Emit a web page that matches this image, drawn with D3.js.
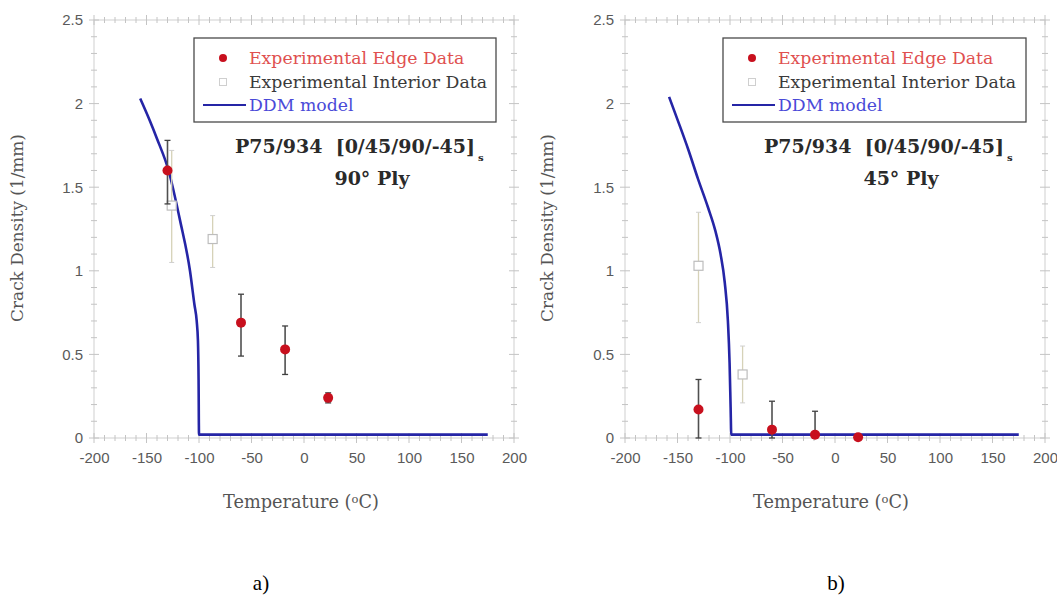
<!DOCTYPE html>
<html><head><meta charset="utf-8">
<script src="https://cdn.jsdelivr.net/npm/d3@7"></script>
<style>body{margin:0;background:#fff}svg{display:block}</style>
</head><body>
<svg id="c" width="1057" height="597"></svg>
<script>
// ---- data ----
const xTickValues = [-200, -150, -100, -50, 0, 50, 100, 150, 200];
const yTickValues = [0, 0.5, 1, 1.5, 2, 2.5];
const yTickLabels = ["0", "0.5", "1", "1.5", "2", "2.5"];
const legendLabels = ["Experimental Edge Data", "Experimental Interior Data", "DDM model"];
const panelTitles = ["P75/934\u00a0\u00a0[0/45/90/-45]", "P75/934\u00a0\u00a0[0/45/90/-45]"];
const plyLabels = ["90\u00b0 Ply", "45\u00b0 Ply"];
const captions = ["a)", "b)"];

// panel a (90° ply)
const ddmA_T = [-156, -147, -140, -129, -118, -108.6, -104.4, -102.2, -101, -100.4, -100, 175];
const ddmA_D = [2.03, 1.90, 1.79, 1.60, 1.30, 1.00, 0.80, 0.70, 0.58, 0.35, 0.02, 0.02];
const edgeA_T = [-130, -60, -18, 23];
const edgeA_D = [1.60, 0.69, 0.53, 0.24];
const edgeA_lo = [1.40, 0.49, 0.38, 0.21];
const edgeA_hi = [1.78, 0.86, 0.67, 0.27];
const intA_T = [-126, -87];
const intA_D = [1.39, 1.19];
const intA_lo = [1.05, 1.02];
const intA_hi = [1.72, 1.33];

// panel b (45° ply)
const ddmB_T = [-158, -148, -140, -130.5, -121, -114, -109, -105, -102, -100.4, -99.4, -98.8, 175];
const ddmB_D = [2.04, 1.87, 1.73, 1.55, 1.38, 1.24, 1.10, 0.93, 0.70, 0.45, 0.18, 0.02, 0.02];
const edgeB_T = [-130, -60, -19, 22];
const edgeB_D = [0.17, 0.05, 0.02, 0.005];
const edgeB_lo = [0, 0, 0, 0];
const edgeB_hi = [0.35, 0.22, 0.16, 0.02];
const intB_T = [-130, -88];
const intB_D = [1.03, 0.38];
const intB_lo = [0.69, 0.21];
const intB_hi = [1.35, 0.55];

// ---- drawing ----
const svg = d3.select("#c");
const SERIF = "'DejaVu Serif', serif";
const SANS = "'Liberation Sans', Arial, sans-serif";

function fit(sel, target) {
  const w = sel.node().getComputedTextLength();
  const fs = parseFloat(sel.attr("font-size"));
  const nfs = fs * target / w;
  sel.attr("font-size", nfs.toFixed(2));
  return nfs;
}

const panels = [
  {x0: 94, x1: 514, ddmT: ddmA_T, ddmD: ddmA_D, eT: edgeA_T, eD: edgeA_D, eLo: edgeA_lo, eHi: edgeA_hi,
   iT: intA_T, iD: intA_D, iLo: intA_lo, iHi: intA_hi, title: panelTitles[0], ply: plyLabels[0], cap: captions[0],
   legX0: 194, legX1: 496, yTitleX: 17, tempX: 301, capX: 261, titleX0: 235, plyX: 372},
  {x0: 625, x1: 1045, ddmT: ddmB_T, ddmD: ddmB_D, eT: edgeB_T, eD: edgeB_D, eLo: edgeB_lo, eHi: edgeB_hi,
   iT: intB_T, iD: intB_D, iLo: intB_lo, iHi: intB_hi, title: panelTitles[1], ply: plyLabels[1], cap: captions[1],
   legX0: 723, legX1: 1026, yTitleX: 547, tempX: 831, capX: 836, titleX0: 764, plyX: 901}
];

const yTop = 20, yBot = 438;

panels.forEach(p => {
  const x = d3.scaleLinear().domain([-200, 200]).range([p.x0, p.x1]);
  const y = d3.scaleLinear().domain([0, 2.5]).range([yBot, yTop]);
  const g = svg.append("g");

  // frame
  g.append("rect").attr("x", p.x0).attr("y", yTop).attr("width", p.x1 - p.x0).attr("height", yBot - yTop)
    .attr("fill", "none").attr("stroke", "#cfcfcf").attr("stroke-width", 1);

  // ticks (crossing) on all four sides
  const tickCol = "#c4c4c4";
  const xMinor = d3.range(-200, 201, 10);
  const yMinor = d3.range(0, 2.501, 0.1);
  xMinor.forEach(v => {
    const major = Math.abs(v % 50) < 1e-9;
    const L = major ? 5 : 3;
    [yTop, yBot].forEach(yy => g.append("line").attr("x1", x(v)).attr("x2", x(v))
      .attr("y1", yy - L).attr("y2", yy + L).attr("stroke", tickCol).attr("stroke-width", 1));
  });
  yMinor.forEach(v => {
    const r = Math.round(v * 10) % 5;
    const L = r === 0 ? 5 : 3;
    [p.x0, p.x1].forEach(xx => g.append("line").attr("x1", xx - L).attr("x2", xx + L)
      .attr("y1", y(v)).attr("y2", y(v)).attr("stroke", tickCol).attr("stroke-width", 1));
  });

  // axis labels via d3 axes (tick lines hidden, labels only)
  const xAxis = d3.axisBottom(x).tickValues(xTickValues).tickSize(0).tickPadding(0).tickFormat(d => String(d));
  const xa = g.append("g").attr("transform", `translate(0,${yBot + 14})`).call(xAxis);
  xa.select(".domain").remove();
  xa.selectAll("text").attr("font-family", SANS).attr("font-size", 15).attr("fill", "#5a5a5a");
  const yAxis = d3.axisLeft(y).tickValues(yTickValues).tickSize(0).tickPadding(0)
    .tickFormat((d, i) => yTickLabels[i]);
  const ya = g.append("g").attr("transform", `translate(${p.x0 - 11},0)`).call(yAxis);
  ya.select(".domain").remove();
  ya.selectAll("text").attr("font-family", SANS).attr("font-size", 15).attr("fill", "#5a5a5a");

  // axis titles
  const yt = g.append("text").attr("transform", `translate(${p.yTitleX + 6},228) rotate(-90)`)
    .attr("text-anchor", "middle").attr("font-family", SERIF).attr("font-size", 15).attr("fill", "#555")
    .text("Crack Density (1/mm)");
  fit(yt, 188);
  const xt = g.append("text").attr("x", p.tempX).attr("y", 508).attr("text-anchor", "middle")
    .attr("font-family", SERIF).attr("font-size", 15).attr("fill", "#555");
  xt.append("tspan").text("Temperature (");
  xt.append("tspan").attr("dy", -5).attr("font-size", "0.65em").text("o");
  xt.append("tspan").attr("dy", 5).text("C)");
  fit(xt, 156);

  // DDM curve
  const line = d3.line().x(d => x(d[0])).y(d => y(d[1])).curve(d3.curveMonotoneX);
  const pts = p.ddmT.map((t, i) => [t, p.ddmD[i]]);
  g.append("path").datum(pts).attr("d", line).attr("fill", "none")
    .attr("stroke", "#2525a6").attr("stroke-width", 2.6).attr("stroke-linejoin", "round");

  // interior data: error bars + open squares
  p.iT.forEach((t, i) => {
    g.append("line").attr("x1", x(t)).attr("x2", x(t)).attr("y1", y(p.iLo[i])).attr("y2", y(p.iHi[i]))
      .attr("stroke", "#d6d2b8").attr("stroke-width", 1.3);
    [p.iLo[i], p.iHi[i]].forEach(v => g.append("line").attr("x1", x(t) - 2.5).attr("x2", x(t) + 2.5)
      .attr("y1", y(v)).attr("y2", y(v)).attr("stroke", "#cfcfcf").attr("stroke-width", 1));
    g.append("rect").attr("x", x(t) - 4.5).attr("y", y(p.iD[i]) - 4.5).attr("width", 9).attr("height", 9)
      .attr("fill", "#fff").attr("stroke", "#bdbdbd").attr("stroke-width", 1.2);
  });

  // edge data: error bars + red dots
  p.eT.forEach((t, i) => {
    g.append("line").attr("x1", x(t)).attr("x2", x(t)).attr("y1", y(p.eLo[i])).attr("y2", y(p.eHi[i]))
      .attr("stroke", "#505050").attr("stroke-width", 1.6);
    [p.eLo[i], p.eHi[i]].forEach(v => g.append("line").attr("x1", x(t) - 3).attr("x2", x(t) + 3)
      .attr("y1", y(v)).attr("y2", y(v)).attr("stroke", "#404040").attr("stroke-width", 1.3));
    g.append("circle").attr("cx", x(t)).attr("cy", y(p.eD[i])).attr("r", 5)
      .attr("fill", "#c8101e");
  });

  // legend
  const lg = g.append("g");
  lg.append("rect").attr("x", p.legX0).attr("y", 38).attr("width", p.legX1 - p.legX0).attr("height", 84)
    .attr("fill", "#fff").attr("stroke", "#4a4a4a").attr("stroke-width", 1.3);
  const mx = p.legX0 + 29, tx = p.legX0 + 55;
  lg.append("circle").attr("cx", mx).attr("cy", 58).attr("r", 4).attr("fill", "#c8101e");
  lg.append("rect").attr("x", mx - 3.5).attr("y", 78.5).attr("width", 7).attr("height", 7)
    .attr("fill", "#fff").attr("stroke", "#cfcfcf").attr("stroke-width", 1);
  lg.append("line").attr("x1", p.legX0 + 9).attr("x2", p.legX0 + 52).attr("y1", 105).attr("y2", 105)
    .attr("stroke", "#2525a6").attr("stroke-width", 2);
  const legCols = ["#e0504f", "#3a3a3a", "#4a4ad8"];
  const legY = [63.5, 87.5, 110.5];
  const legTexts = legendLabels.map((s, i) => lg.append("text").attr("x", tx).attr("y", legY[i])
    .attr("font-family", SERIF).attr("font-size", 16).attr("fill", legCols[i]).text(s));
  const lfs = fit(legTexts[1], 238);
  legTexts.forEach(t => t.attr("font-size", lfs.toFixed(2)));

  // annotations
  const ann = g.append("text").attr("x", p.titleX0).attr("y", 153).attr("font-family", SERIF)
    .attr("font-weight", "bold").attr("font-size", 16).attr("fill", "#2a2a2a").text(p.title);
  const afs = fit(ann, 240);
  g.append("text").attr("x", p.titleX0 + 243).attr("y", 161).attr("font-family", SERIF)
    .attr("font-weight", "bold").attr("font-size", 10).attr("fill", "#2a2a2a").text("s");
  g.append("text").attr("x", p.plyX).attr("y", 185).attr("text-anchor", "middle")
    .attr("font-family", SERIF).attr("font-weight", "bold").attr("font-size", afs.toFixed(2)).attr("fill", "#2a2a2a")
    .text(p.ply);

  // caption
  svg.append("text").attr("x", p.capX).attr("y", 590).attr("text-anchor", "middle")
    .attr("font-family", "'Liberation Serif', 'Times New Roman', serif").attr("font-size", 21)
    .attr("fill", "#000").text(p.cap);
});
</script>
</body></html>
